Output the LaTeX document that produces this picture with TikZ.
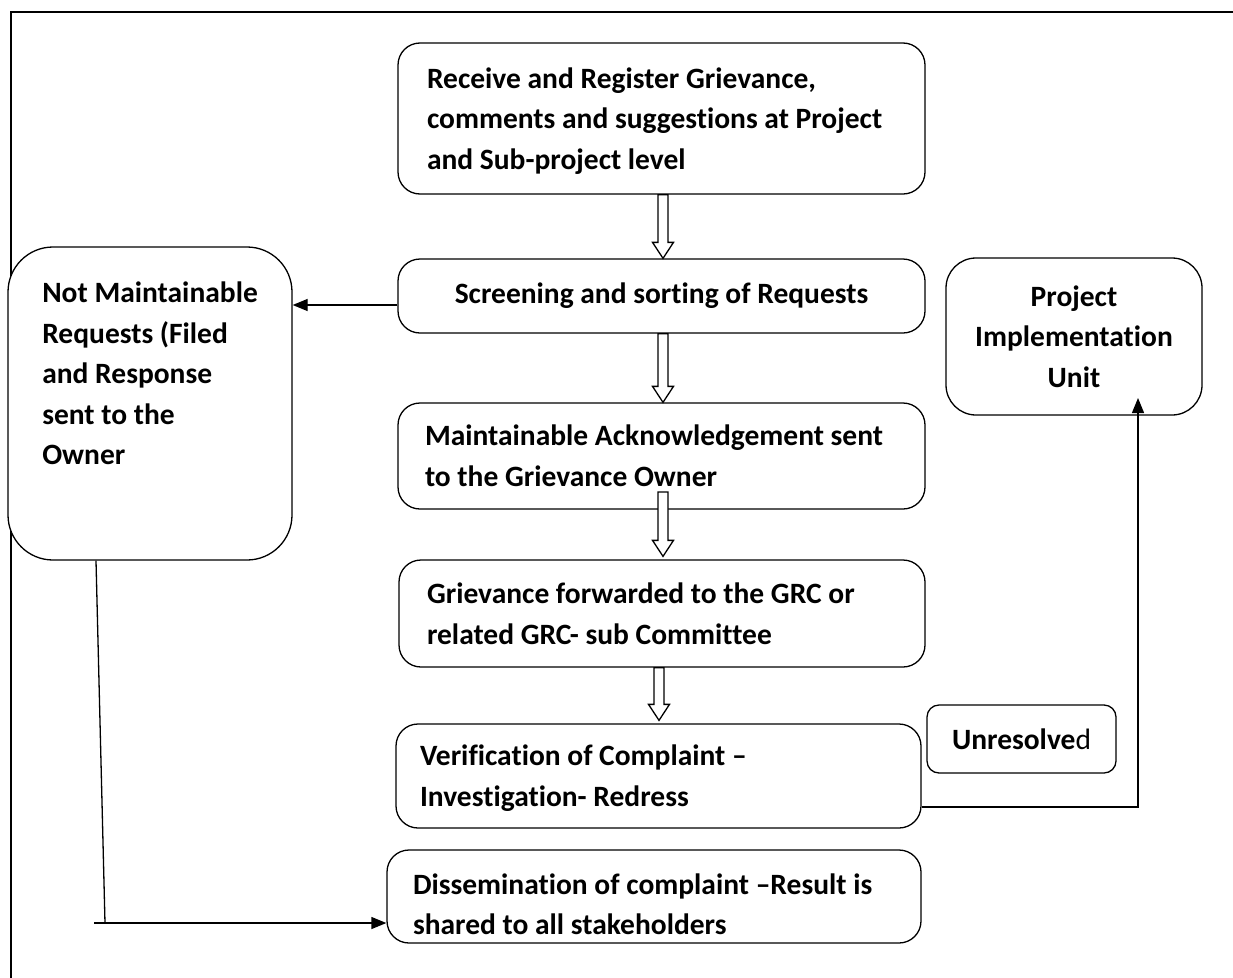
\documentclass[tikz,border=0pt]{standalone}
\usepackage{fontspec}
\setmainfont{Carlito}[Ligatures=NoCommon]
\usetikzlibrary{arrows.meta,calc}
\tikzset{
  box/.style={draw, line width=1.3pt, fill=white, rounded corners=22pt, inner ysep=0pt,
    font=\fontsize{29.5}{40.5}\selectfont\bfseries},
  conn/.style={line width=1.3pt},
  tip/.style={-{Triangle[length=15pt,width=12pt]}},
  hollow/.style={draw, line width=1.3pt, fill=white, line join=miter},
  frame/.style={line width=2pt}
}
\newcommand\hollowdown[2]{\draw[hollow] let \p1=(#1), \p2=(#2) in
  (\x1-5pt,\y1) -- (\x1-5pt,\y2+16pt) -- (\x1-10.5pt,\y2+16pt) -- (\x1,\y2)
  -- (\x1+10.5pt,\y2+16pt) -- (\x1+5pt,\y2+16pt) -- (\x1+5pt,\y1) -- cycle;}
\begin{document}
\begin{tikzpicture}[x=1pt,y=-1pt]
\useasboundingbox (0,0) rectangle (1233,977);
\draw[frame] (1240,12) -- (11,12) -- (11,980);

\node[box, minimum width=527pt, minimum height=151pt, inner xsep=29pt, text width=469pt, align=flush left] (rec) at (661.5,118.5)
  {\rule{0pt}{25pt}Receive and Register Grievance,\\comments and suggestions at Project\\and Sub-project level};
\node[box, minimum width=527pt, minimum height=74pt, inner xsep=20pt, text width=487pt, align=flush center] (scr) at (661.5,296)
  {Screening and sorting of Requests};
\node[box, minimum width=527pt, minimum height=106pt, inner xsep=27pt, text width=473pt, align=flush left] (mai) at (661.5,456)
  {Maintainable Acknowledgement sent\\to the Grievance Owner};
\node[box, minimum width=526pt, minimum height=107pt, inner xsep=28pt, text width=470pt, align=flush left] (grf) at (662,613.5)
  {Grievance forwarded to the GRC or\\related GRC- sub Committee};
\node[box, minimum width=525pt, minimum height=104pt, inner xsep=24pt, text width=477pt, align=flush left] (ver) at (658.5,776)
  {\rule{0pt}{25pt}Verification of Complaint --\\Investigation- Redress};
\node[box, minimum width=534pt, minimum height=93pt, inner xsep=26pt, text width=482pt, align=flush left] (dis) at (654,896.5)
  {\rule{0pt}{36pt}Dissemination of complaint --Result is\\shared to all stakeholders};
\node[box, rounded corners=45pt, minimum width=284pt, minimum height=313pt, align=flush left] (nm) at (150,403.5)
  {Not Maintainable\\Requests (Filed\\and Response\\sent to the\\Owner\rule[-60pt]{0pt}{0pt}};
\node[box, rounded corners=30pt, minimum width=256pt, minimum height=157pt, inner xsep=10pt, text width=236pt, align=flush center] (piu) at (1074,336.5)
  {Project\\Implementation\\Unit};
\node[box, rounded corners=12pt, minimum width=189pt, minimum height=68pt, inner xsep=8pt, text width=173pt, align=flush center] (unr) at (1021.5,739)
  {Unresolve\mdseries d};

% hollow block arrows
\coordinate (ax) at (663,0);
\coordinate (bx) at (659,0);
\coordinate (a3top) at (663,492);
\hollowdown{rec.south -| ax}{scr.north -| ax}
\hollowdown{scr.south -| ax}{mai.north -| ax}
\hollowdown{a3top}{$(grf.north -| ax)+(0,-3)$}
\hollowdown{grf.south -| bx}{$(ver.north -| bx)+(0,-3)$}

% screening -> not maintainable
\coordinate (sy) at (0,305);
\draw[conn,tip] (scr.west |- sy) -- (nm.east |- sy);

% verification -> PIU
\coordinate (vy) at (0,807);
\coordinate (piutip) at (1138,398);
\draw[conn,tip] (ver.east |- vy) -- (piutip |- vy) -- (piutip);

% not maintainable -> dissemination
\coordinate (nmb) at (96,0);
\coordinate (lk) at (105,923);
\coordinate (ls) at (94,923);
\draw[conn] (nm.south -| nmb) -- (lk);
\draw[conn,tip] (ls) -- (dis.west |- ls);
\end{tikzpicture}
\end{document}
